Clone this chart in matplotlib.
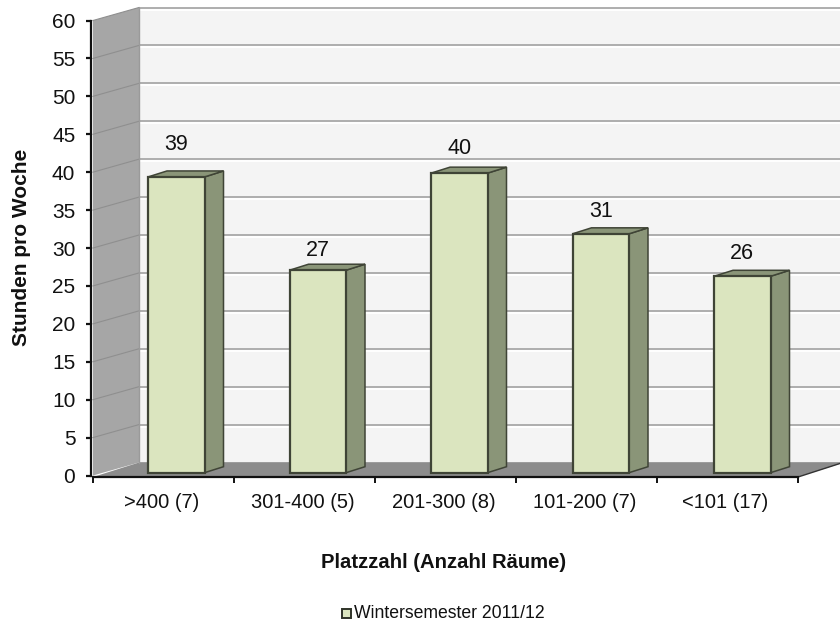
import matplotlib
matplotlib.use('Agg')
import matplotlib.pyplot as plt
from matplotlib.patches import Polygon, Rectangle

plt.rcParams['font.family'] = ['Liberation Sans', 'DejaVu Sans']

categories = ['>400 (7)', '301-400 (5)', '201-300 (8)', '101-200 (7)', '<101 (17)']
values = [39.0, 26.7, 39.5, 31.5, 25.9]
value_labels = ['39', '27', '40', '31', '26']
y_ticks = list(range(0, 65, 5))
series_name = 'Wintersemester 2011/12'
y_title = 'Stunden pro Woche'
x_title = 'Platzzahl (Anzahl Räume)'

# style: gap in px between bar top and the centre of its label
label_gaps = [32, 20, 25, 22, 23]

W, H = 840, 623
X0, X1, Y0, Y60 = 93.0, 798.0, 475.5, 20.5
fig = plt.figure(figsize=(W / 100, H / 100), dpi=100, facecolor='white')
ax = fig.add_axes([X0 / W, 1 - Y0 / H, (X1 - X0) / W, (Y0 - Y60) / H])
ax.set_xlim(0, len(categories))
ax.set_ylim(0, 60)
ax.patch.set_visible(False)
for s in ['top', 'right']:
    ax.spines[s].set_visible(False)
for s in ['left', 'bottom']:
    ax.spines[s].set_linewidth(1.6)
    ax.spines[s].set_color('#111111')
    ax.spines[s].set_zorder(8)
    ax.spines[s].set_position(('outward', 1.2))

px = (X1 - X0) / len(categories)
py = (Y0 - Y60) / 60
ddx, ddy = 46 / px, 13 / py   # wall depth in data units
bdx, bdy = 19 / px, 6 / py    # bar depth
bw = 56.5 / px


def poly(pts, **kw):
    p = Polygon(pts, closed=True, clip_on=False, **kw)
    ax.add_patch(p)
    return p


xr = 5 + 60 / px
poly([(ddx, ddy), (xr, ddy), (xr, 60 + ddy), (ddx, 60 + ddy)], fc='#f4f4f4', ec='none', zorder=1)
poly([(0, 0), (ddx, ddy), (ddx, 60 + ddy), (0, 60)], fc='#a6a6a6', ec='none', zorder=2)
poly([(0, -0.2), (5, -0.2), (5 + ddx, ddy), (ddx, ddy)], fc='#8c8c8c', ec='none', zorder=2)
ax.plot([5, 5 + 45 / px], [-0.2, 13 / py], color='#333333', lw=1.0, clip_on=False, zorder=3)

for t in y_ticks:
    ax.plot([ddx, xr], [t + ddy - 2 / py] * 2, color='#ffffff', lw=1.4, clip_on=False,
            zorder=1.4, solid_capstyle='butt')
    ax.plot([ddx, xr], [t + ddy, t + ddy], color='#a8a8a8', lw=1.3, clip_on=False,
            zorder=1.5, solid_capstyle='butt')
    if t:
        ax.plot([0, ddx], [t, t + ddy], color='#8f8f8f', lw=0.8, clip_on=False, zorder=2.5)
ax.plot([ddx, ddx], [ddy, 60 + ddy], color='#9a9a9a', lw=1.0, clip_on=False, zorder=2.5)

edge = '#3f4436'
y0 = 2.8 / py
for i, v in enumerate(values):
    c = i + 0.5
    l = c + (148.0 + 141.5 * i + 28.25 - X0) / px - c - bw / 2
    r = l + bw
    y1 = v + y0
    poly([(r, y0), (r + bdx, y0 + bdy), (r + bdx, y1 + bdy), (r, y1)],
         fc='#8a9578', ec=edge, lw=1.1, zorder=5, joinstyle='miter')
    poly([(l, y1), (r, y1), (r + bdx, y1 + bdy), (l + bdx, y1 + bdy)],
         fc='#8a9578', ec=edge, lw=1.1, zorder=5, joinstyle='miter')
    ax.add_patch(Rectangle((l, y0), bw, v, fc='#dbe5bf', ec=edge, lw=1.6, zorder=6, clip_on=False))
    ax.text((l + r) / 2, y1 + label_gaps[i] / py, value_labels[i], ha='center', va='center',
            fontsize=15.5, color='#111111', zorder=9)

ax.set_yticks(y_ticks)
ax.set_xticks(range(len(categories) + 1))
ax.set_xticklabels([''] * (len(categories) + 1))
ax.tick_params(axis='y', length=3.5, width=1.6, direction='out', labelsize=15, pad=8,
               color='#111111', labelcolor='#111111')
ax.tick_params(axis='x', length=4, width=1.4, direction='out', color='#111111')
for i, name in enumerate(categories):
    ax.text(i + 0.5 - 2 / px, -3.5, name, ha='center', va='center', fontsize=14.5, color='#111111')

fig.text(22 / W, 1 - 247 / H, y_title, rotation=90, ha='center', va='center',
         fontsize=15, fontweight='bold', color='#111111')
fig.text(444 / W, 1 - 563 / H, x_title, ha='center', va='center',
         fontsize=14.6, fontweight='bold', color='#111111')

fig.patches.append(Rectangle((341.5 / W, 1 - 617.5 / H), 9 / W, 9 / H, transform=fig.transFigure,
                             fc='#dbe5bf', ec='#2f3328', lw=1.4))
fig.text(354 / W, 1 - 613 / H, series_name, ha='left', va='center', fontsize=12.7, color='#111111')

fig.savefig('out.png', dpi=100)
